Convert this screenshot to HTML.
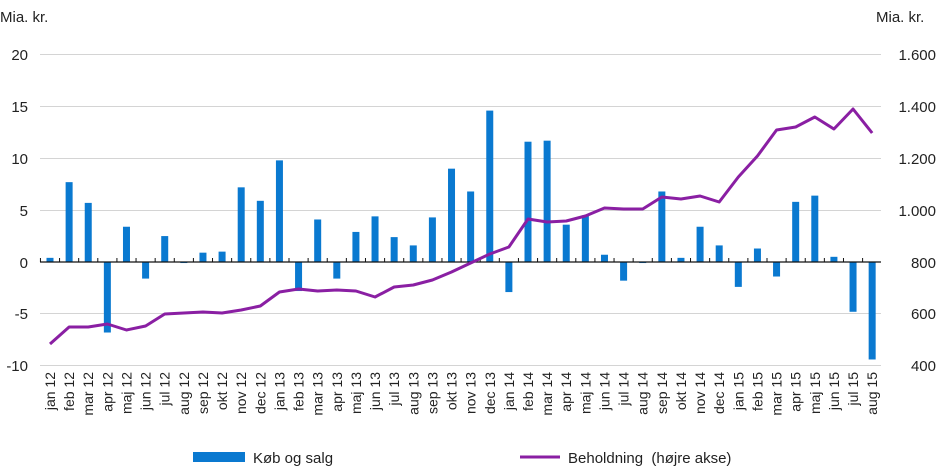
<!DOCTYPE html>
<html><head><meta charset="utf-8"><style>body{margin:0;background:#fff}svg{display:block;font-family:"Liberation Sans",sans-serif;font-size:15px;fill:#222}</style></head>
<body>
<svg id="s" width="941" height="473" xmlns="http://www.w3.org/2000/svg">
<text x="0" y="22">Mia. kr.</text>
<text x="876" y="22">Mia. kr.</text>
<g stroke="#d4d4d4" stroke-width="1">
<line x1="40" y1="54.5" x2="881" y2="54.5"/><line x1="40" y1="106.5" x2="881" y2="106.5"/><line x1="40" y1="158.5" x2="881" y2="158.5"/><line x1="40" y1="210.5" x2="881" y2="210.5"/><line x1="40" y1="313.5" x2="881" y2="313.5"/><line x1="40" y1="365.5" x2="881" y2="365.5"/>
</g>
<g text-anchor="end">
<text x="28" y="60">20</text><text x="28" y="112">15</text><text x="28" y="164">10</text><text x="28" y="216">5</text><text x="28" y="268">0</text><text x="28" y="319">-5</text><text x="28" y="371">-10</text>
</g>
<g text-anchor="end">
<text x="936" y="60">1.600</text><text x="936" y="112">1.400</text><text x="936" y="164">1.200</text><text x="936" y="216">1.000</text><text x="936" y="268">800</text><text x="936" y="319">600</text><text x="936" y="371">400</text>
</g>
<g id="bars" fill="#0a79d0"></g>
<line x1="40" y1="262" x2="881" y2="262" stroke="#111" stroke-width="1.3"/>
<g id="ticks" stroke="#111" stroke-width="1"></g>
<polyline id="ln" fill="none" stroke="#8a1fa3" stroke-width="3" stroke-linejoin="round"/>
<g id="lab" font-size="14"></g>
<rect x="193" y="452" width="52" height="10" fill="#0a79d0"/>
<text x="253" y="463">Køb og salg</text>
<line x1="520" y1="457" x2="560" y2="457" stroke="#8a1fa3" stroke-width="3"/>
<text x="568" y="463" xml:space="preserve">Beholdning  (højre akse)</text>
</svg>
<script>
var v=[0.4,7.7,5.7,-6.8,3.4,-1.6,2.5,-0.1,0.9,1.0,7.2,5.9,9.8,-2.8,4.1,-1.6,2.9,4.4,2.4,1.6,4.3,9.0,6.8,14.6,-2.9,11.6,11.7,3.6,4.5,0.7,-1.8,-0.1,6.8,0.4,3.4,1.6,-2.4,1.3,-1.4,5.8,6.4,0.5,-4.8,-9.4];
var ly=[344,327,327,324,330,326,314,313,312,313,310,306,292,289,291,290,291,297,287,285,280,272,263,254,247,219,222,221,216,208,209,209,197,199,196,202,177,156,130,127,117,129,109,133];
var m=["jan","feb","mar","apr","maj","jun","jul","aug","sep","okt","nov","dec"];
var ns="http://www.w3.org/2000/svg",b=document.getElementById("bars"),L=document.getElementById("lab"),T=document.getElementById("ticks"),pts=[];
for(var i=0;i<44;i++){var x=50+i*19.12;var y0=262,h=v[i]*10.37;
var r=document.createElementNS(ns,"rect");r.setAttribute("x",x-3.5);r.setAttribute("width",7);r.setAttribute("y",h>0?y0-h:y0);r.setAttribute("height",Math.abs(h));b.appendChild(r);
pts.push(x+","+ly[i]);
var tk=document.createElementNS(ns,"line");var tx=x-9.56;tk.setAttribute("x1",tx);tk.setAttribute("x2",tx);tk.setAttribute("y1",262);tk.setAttribute("y2",258);T.appendChild(tk);
var t=document.createElementNS(ns,"text");t.setAttribute("transform","translate("+(x+5)+",372) rotate(-90)");t.setAttribute("text-anchor","end");t.textContent=m[i%12]+" "+(12+Math.floor(i/12));L.appendChild(t);}
document.getElementById("ln").setAttribute("points",pts.join(" "));
</script>
</body></html>
